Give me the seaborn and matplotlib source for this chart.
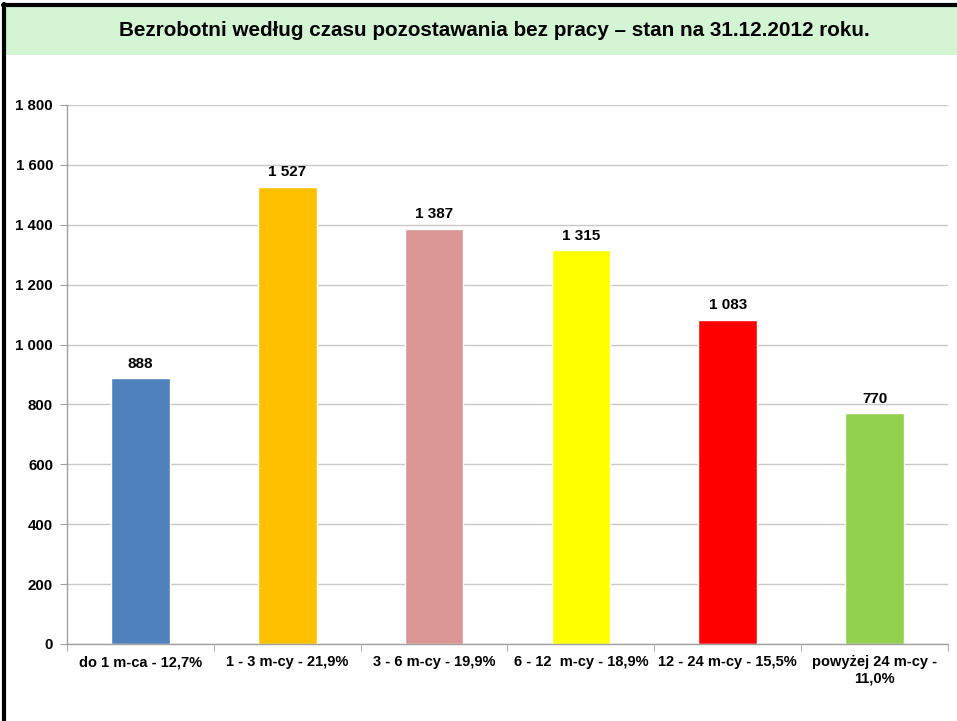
import pandas as pd
import matplotlib
matplotlib.use("Agg")
import matplotlib.pyplot as plt
import seaborn as sns
from matplotlib.ticker import FuncFormatter, MultipleLocator
from matplotlib.patches import Rectangle
from matplotlib.lines import Line2D

TITLE = "Bezrobotni według czasu pozostawania bez pracy – stan na 31.12.2012 roku."

categories = ["do 1 m-ca - 12,7%", "1 - 3 m-cy - 21,9%", "3 - 6 m-cy - 19,9%",
              "6 - 12  m-cy - 18,9%", "12 - 24 m-cy - 15,5%", "powyżej 24 m-cy -\n11,0%"]
values = [888, 1527, 1387, 1315, 1083, 770]
colors = ["#4F81BD", "#FFC000", "#D99694", "#FFFF00", "#FF0000", "#92D050"]


def thousands(v, pos=None):
    return f"{int(v):,}".replace(",", " ")


sns.set_style("white")
plt.rcParams['font.family'] = ['Liberation Sans', 'DejaVu Sans']
plt.rcParams['text.color'] = 'black'
plt.rcParams['xtick.color'] = 'black'
plt.rcParams['ytick.color'] = 'black'

df = pd.DataFrame({"kategoria": categories, "liczba": values})

fig = plt.figure(figsize=(9.57, 7.21), dpi=100)

# title band and frame
fig.patches.append(Rectangle((0.005, 1 - 55 / 721), 0.995, 48 / 721, transform=fig.transFigure,
                             facecolor="#D3F5D3", edgecolor="none", zorder=0))
fig.lines.append(Line2D([0.0045, 0.0045], [0, 0.995], transform=fig.transFigure, color="black", lw=3))
fig.lines.append(Line2D([0.003, 1], [0.9925, 0.9925], transform=fig.transFigure, color="black", lw=3))
fig.text(494 / 957, 1 - 31 / 721, TITLE, ha="center", va="center", fontsize=14.9, fontweight="bold")

ax = fig.add_axes([0.070, 0.1068, 0.9206, 0.7476])
sns.barplot(data=df, x="kategoria", y="liczba", hue="kategoria", palette=colors,
            width=0.4, legend=False, ax=ax, saturation=1)

ax.set_ylim(0, 1800)
ax.set_xlim(-0.5, len(categories) - 0.5)
ax.yaxis.set_major_locator(MultipleLocator(200))
ax.yaxis.set_major_formatter(FuncFormatter(thousands))
ax.grid(axis="y", color="#C8C8C8", lw=1)
ax.set_axisbelow(True)
ax.set_xlabel("")
ax.set_ylabel("")

for i, v in enumerate(values):
    ax.text(i, v + 25, thousands(v), ha="center", va="bottom", fontsize=11, fontweight="bold")

ax.set_xticks(range(len(categories)))
ax.set_xticklabels(categories, fontsize=10.5, fontweight="bold")
ax.set_xticks([x - 0.5 for x in range(len(categories) + 1)], minor=True)
ax.tick_params(axis="x", which="major", length=0, pad=8)
ax.tick_params(axis="x", which="minor", length=5, color="#A0A0A0", direction="out", bottom=True)
ax.tick_params(axis="y", length=5, color="#A0A0A0", direction="out", left=True, pad=5)
for lab in ax.get_yticklabels():
    lab.set_fontweight("bold")
    lab.set_fontsize(10.8)

for side in ["top", "right"]:
    ax.spines[side].set_visible(False)
for side in ["left", "bottom"]:
    ax.spines[side].set_color("#A0A0A0")
    ax.spines[side].set_linewidth(1)

fig.savefig("out.png", dpi=100)
